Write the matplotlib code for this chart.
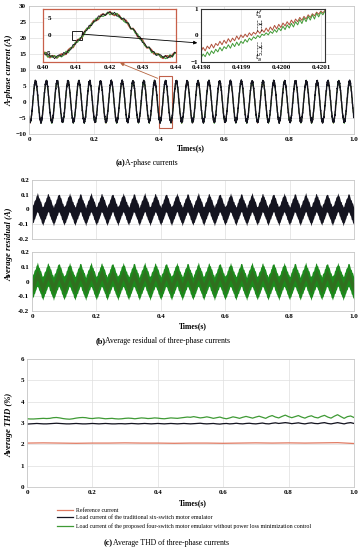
import numpy as np
import matplotlib
matplotlib.use('Agg')
import matplotlib.pyplot as plt
from matplotlib.patches import Rectangle, ConnectionPatch

plt.rcParams['font.family'] = ['Liberation Serif', 'DejaVu Serif']

# ---------------------------------------------------------
# (a) A-phase current: one 30 Hz cycle
# ---------------------------------------------------------
n_cycles = 30
cycle_a = [0.0, 0.8, 1.7, 2.5, 3.2, 3.9, 4.5, 5.1, 5.5, 5.9, 6.2, 6.3,
           6.4, 6.3, 6.2, 5.9, 5.5, 5.0, 4.5, 3.9, 3.2, 2.4, 1.7, 0.8,
           0.0, -0.8, -1.6, -2.4, -3.1, -3.8, -4.4, -4.9, -5.3, -5.7, -5.9, -6.1,
           -6.2, -6.1, -5.9, -5.7, -5.3, -4.9, -4.4, -3.8, -3.1, -2.4, -1.6, -0.8]
ripple_blk = [0.35, -0.25, 0.45, -0.4, 0.15, -0.3, 0.5, -0.1, 0.3, -0.45, 0.2]
ripple_grn = [-0.3, 0.4, -0.5, 0.2, -0.2, 0.45, -0.35, 0.1, -0.45]
ripple_red = [0.25, -0.35, 0.1, 0.4, -0.2, -0.45, 0.3]
shift_a = 17  # samples -> rising zero crossing near 0.412 s

# right-hand zoom (0.4198 .. 0.4201 s)
zoom_red = [-0.62, -0.45, -0.58, -0.40, -0.50, -0.33, -0.47, -0.30, -0.38, -0.22,
            -0.35, -0.18, -0.30, -0.12, -0.25, -0.10, -0.20, -0.02, -0.15, 0.02,
            -0.08, 0.05, -0.05, 0.10, 0.00, 0.12, 0.05, 0.18, 0.08, 0.22,
            0.12, 0.28, 0.15, 0.32, 0.20, 0.38, 0.25, 0.42, 0.30, 0.47,
            0.36, 0.52, 0.40, 0.58, 0.46, 0.62, 0.52, 0.68, 0.57, 0.72,
            0.62, 0.78, 0.68, 0.82, 0.74, 0.88, 0.80, 0.92, 0.85, 0.95]
zoom_grn = [-0.85, -0.70, -0.80, -0.62, -0.75, -0.58, -0.68, -0.52, -0.62, -0.45,
            -0.58, -0.42, -0.50, -0.35, -0.48, -0.30, -0.42, -0.25, -0.38, -0.22,
            -0.30, -0.15, -0.25, -0.10, -0.18, -0.05, -0.12, 0.00, -0.08, 0.05,
            0.00, 0.10, 0.02, 0.15, 0.08, 0.22, 0.12, 0.28, 0.18, 0.35,
            0.22, 0.40, 0.28, 0.46, 0.32, 0.52, 0.40, 0.60, 0.45, 0.66,
            0.52, 0.72, 0.58, 0.78, 0.62, 0.84, 0.70, 0.88, 0.78, 0.92]

# ---------------------------------------------------------
# (b) average residual: band centre per cycle + half widths
# ---------------------------------------------------------
cycle_b = [-0.045, -0.033, -0.021, -0.009, 0.003, 0.015, 0.027, 0.039,
           0.048, 0.036, 0.024, 0.012, 0.0, -0.012, -0.024, -0.036]
half_blk = 0.055
half_grn = 0.072
half_grn_core = 0.035
jit_up = [0.0, 0.01, 0.003, 0.012, 0.006]
jit_dn = [0.007, 0.0, 0.011, 0.003, 0.009, 0.004]

# ---------------------------------------------------------
# (c) average THD (%)
# ---------------------------------------------------------
thd_ref = [2.06, 2.07, 2.06, 2.05, 2.06, 2.06, 2.07, 2.06, 2.06, 2.05, 2.06,
           2.06, 2.05, 2.06, 2.07, 2.06, 2.07, 2.06, 2.07, 2.08, 2.04]
thd_six = [2.95, 2.96, 2.97, 2.98, 2.97, 2.96, 2.96, 2.97, 2.98, 2.99,
           2.98, 2.97, 2.96, 2.96, 2.97, 2.98, 2.97, 2.96, 2.96, 2.97,
           2.98, 2.97, 2.96, 2.97, 2.98, 2.97, 2.96, 2.96, 2.97, 2.97,
           2.96, 2.97, 2.98, 2.97, 2.96, 2.97, 2.98, 2.97, 2.96, 2.97,
           2.98, 2.97, 2.96, 2.97, 2.98, 2.97, 2.96, 2.97, 2.98, 2.97,
           2.96, 2.97, 2.98, 2.99, 2.97, 2.96, 2.97, 2.98, 2.96, 2.95,
           2.97, 2.98, 2.96, 2.97, 2.99, 2.97, 2.96, 2.98, 2.99, 2.97,
           2.96, 2.98, 3.00, 2.97, 2.96, 2.99, 3.01, 2.98, 3.00, 3.02,
           3.00, 2.97, 2.99, 3.01, 2.98, 2.96, 2.99, 3.01, 2.98, 2.97,
           3.00, 3.02, 2.98, 2.96, 2.99, 3.02, 2.99, 2.96, 3.00, 3.02, 2.98]
thd_four = [3.20, 3.19, 3.19, 3.20, 3.21, 3.22, 3.21, 3.22, 3.25, 3.26,
            3.24, 3.21, 3.19, 3.18, 3.20, 3.23, 3.25, 3.26, 3.25, 3.22,
            3.21, 3.23, 3.24, 3.22, 3.20, 3.21, 3.22, 3.20, 3.19, 3.20,
            3.22, 3.23, 3.22, 3.20, 3.22, 3.24, 3.23, 3.21, 3.22, 3.24,
            3.23, 3.21, 3.20, 3.22, 3.24, 3.23, 3.22, 3.24, 3.26, 3.28,
            3.27, 3.30, 3.27, 3.24, 3.26, 3.29, 3.26, 3.22, 3.25, 3.28,
            3.23, 3.20, 3.24, 3.29, 3.26, 3.22, 3.27, 3.31, 3.27, 3.23,
            3.28, 3.32, 3.27, 3.22, 3.30, 3.35, 3.28, 3.24, 3.31, 3.37,
            3.30, 3.25, 3.30, 3.35, 3.28, 3.23, 3.30, 3.34, 3.27, 3.24,
            3.31, 3.36, 3.28, 3.23, 3.32, 3.39, 3.30, 3.22, 3.30, 3.33, 3.26]
legend_labels = ['Reference current',
                 'Load current of the traditional six-switch motor emulator',
                 'Load current of the proposed four-switch motor emulator without power loss minimization control']

time_ticks = [0, 0.2, 0.4, 0.6, 0.8, 1.0]
time_labels = ['0', '0.2', '0.4', '0.6', '0.8', '1.0']

C_RED = '#e07a62'
C_BLK = '#141420'
C_GRN = '#3f9a35'
GRID = '#dedede'
TICK_FS = 5


def style(ax, spine='#c8c8c8'):
    ax.grid(True, color=GRID, linewidth=0.5)
    ax.set_axisbelow(True)
    for s in ax.spines.values():
        s.set_color(spine)
        s.set_linewidth(0.6)
    ax.tick_params(length=0, labelsize=TICK_FS, pad=2)
    for lab in ax.get_xticklabels() + ax.get_yticklabels():
        lab.set_fontweight('bold')


fig = plt.figure(figsize=(3.63, 5.5), dpi=100)

# ---------------- panel (a) ----------------
n_a = n_cycles * len(cycle_a)
t_a = np.arange(n_a) / n_a
base_a = np.roll(np.tile(cycle_a, n_cycles), shift_a)
i_blk = base_a + np.resize(ripple_blk, n_a)
i_grn = base_a + np.resize(ripple_grn, n_a)
i_red = base_a + np.resize(ripple_red, n_a)

ax_a = fig.add_axes([0.0799, 0.7564, 0.8951, 0.2327])
ax_a.plot(t_a, i_red, color=C_RED, lw=0.6)
ax_a.plot(t_a, i_grn, color=C_GRN, lw=0.6)
ax_a.plot(t_a, i_blk, color=C_BLK, lw=1.0)
ax_a.add_patch(Rectangle((0.40, -8), 0.04, 16, fill=False, edgecolor='#c0604a', lw=0.8))
ax_a.set_xlim(0, 1)
ax_a.set_ylim(-10, 30)
ax_a.set_yticks(range(-10, 31, 5))
ax_a.set_xticks(time_ticks)
ax_a.set_xticklabels(time_labels)
style(ax_a)

ins1 = fig.add_axes([0.1185, 0.8873, 0.3664, 0.0964])
ins1.plot(t_a, i_red, color='#b0503a', lw=1.2)
ins1.plot(t_a, i_grn, color=C_GRN, lw=0.8)
ins1.plot(t_a, i_blk, color=C_BLK, lw=0.6)
ins1.add_patch(Rectangle((0.4087, -1.2), 0.003, 2.4, fill=False, edgecolor='black', lw=0.6))
ins1.set_xlim(0.40, 0.44)
ins1.set_ylim(-7.6, 7.6)
ins1.set_xticks([0.40, 0.41, 0.42, 0.43, 0.44])
ins1.set_xticklabels(['0.40', '0.41', '0.42', '0.43', '0.44'])
ins1.set_yticks([-5, 0, 5])
style(ins1, spine='#c8604a')
ins1.tick_params(axis='y', pad=-6)
for s in ins1.spines.values():
    s.set_linewidth(0.9)

t_z = np.linspace(0.41980, 0.42011, len(zoom_red))
ins2 = fig.add_axes([0.5537, 0.8873, 0.3416, 0.0964])
ins2.plot(t_z, zoom_red, color='#b0503a', lw=0.7)
ins2.plot(t_z, zoom_grn, color=C_GRN, lw=0.7)
for tx in [0.419940, 0.419950]:
    ins2.plot([tx, tx], [0.15, 0.6], color='black', lw=0.4, ls='--')
    ins2.plot([tx, tx], [-0.75, -0.25], color='black', lw=0.4, ls='--')
ins2.annotate('', xy=(0.419950, 0.42), xytext=(0.419940, 0.42),
              arrowprops=dict(arrowstyle='<->', lw=0.4, color='black', mutation_scale=3))
ins2.annotate('', xy=(0.419950, -0.45), xytext=(0.419940, -0.45),
              arrowprops=dict(arrowstyle='<->', lw=0.4, color='black', mutation_scale=3))
ins2.text(0.419945, 0.75, '$t_a^f$', fontsize=5, ha='center', va='center')
ins2.text(0.419945, -0.85, '$t_a^r$', fontsize=5, ha='center', va='center')
ins2.set_xlim(0.41980, 0.42011)
ins2.set_ylim(-1, 1)
ins2.set_xticks([0.4198, 0.4199, 0.4200, 0.4201])
ins2.set_xticklabels(['0.4198', '0.4199', '0.4200', '0.4201'])
ins2.set_yticks([-1, 0, 1])
style(ins2, spine='#333333')
for s in ins2.spines.values():
    s.set_linewidth(0.8)

fig.add_artist(ConnectionPatch(xyA=(0.4117, 0.4), coordsA='data', axesA=ins1,
                               xyB=(-0.03, 0.36), coordsB='axes fraction', axesB=ins2,
                               arrowstyle='-|>', color='black', lw=0.6, mutation_scale=5))
fig.add_artist(ConnectionPatch(xyA=(0.396, 7.4), coordsA='data', axesA=ax_a,
                               xyB=(0.58, -0.02), coordsB='axes fraction', axesB=ins1,
                               arrowstyle='-|>', color='#b5653f', lw=0.6, mutation_scale=5))

fig.text(0.526, 0.731, 'Times(s)', fontsize=5.5, fontweight='bold', ha='center', va='center')
fig.text(0.025, 0.873, 'A-phase current (A)', fontsize=6.2, fontweight='bold', style='italic',
         rotation=90, ha='center', va='center')
fig.text(0.345, 0.7036, '(a)', fontsize=6, fontweight='bold', ha='right', va='center')
fig.text(0.345, 0.7036, 'A-phase currents', fontsize=5.6, ha='left', va='center')

# ---------------- panel (b) ----------------
n_b = n_cycles * len(cycle_b)
t_b = np.arange(n_b + 1) / n_b
centre_b = np.resize(np.tile(cycle_b, n_cycles), n_b + 1)
up_j = np.resize(jit_up, n_b + 1)
dn_j = np.resize(jit_dn, n_b + 1)

ax_b1 = fig.add_axes([0.0882, 0.5655, 0.8868, 0.1073])
ax_b1.fill_between(t_b, centre_b - half_blk - dn_j, centre_b + half_blk + up_j,
                   color=C_BLK, lw=0)
ax_b1.set_xlim(0, 1)
ax_b1.set_ylim(-0.2, 0.2)
ax_b1.set_xticks(time_ticks)
ax_b1.set_xticklabels([])
ax_b1.set_yticks([-0.2, -0.1, 0, 0.1, 0.2])
ax_b1.set_yticklabels(['-0.2', '-0.1', '0', '0.1', '0.2'])
style(ax_b1)

ax_b2 = fig.add_axes([0.0882, 0.4345, 0.8868, 0.1073])
ax_b2.fill_between(t_b, centre_b - half_grn - dn_j, centre_b + half_grn + up_j,
                   color='#1c8a1c', lw=0)
ax_b2.fill_between(t_b, centre_b - half_grn_core, centre_b + half_grn_core,
                   color='#3f5f22', lw=0, alpha=0.6)
ax_b2.set_xlim(0, 1)
ax_b2.set_ylim(-0.2, 0.2)
ax_b2.set_xticks(time_ticks)
ax_b2.set_xticklabels(time_labels)
ax_b2.set_yticks([-0.2, -0.1, 0, 0.1, 0.2])
ax_b2.set_yticklabels(['-0.2', '-0.1', '0', '0.1', '0.2'])
style(ax_b2)

fig.text(0.53, 0.4073, 'Times(s)', fontsize=5.5, fontweight='bold', ha='center', va='center')
fig.text(0.025, 0.556, 'Average residual (A)', fontsize=6.2, fontweight='bold', style='italic',
         rotation=90, ha='center', va='center')
fig.text(0.29, 0.38, '(b)', fontsize=6, fontweight='bold', ha='right', va='center')
fig.text(0.29, 0.38, 'Average residual of three-phase currents', fontsize=5.6, ha='left', va='center')

# ---------------- panel (c) ----------------
t_ref = np.arange(len(thd_ref)) / (len(thd_ref) - 1)
t_thd = np.arange(len(thd_six)) / (len(thd_six) - 1)

ax_c = fig.add_axes([0.0744, 0.1145, 0.9006, 0.2327])
l1, = ax_c.plot(t_ref, thd_ref, color=C_RED, lw=0.9, label=legend_labels[0])
l2, = ax_c.plot(t_thd, thd_six, color=C_BLK, lw=0.9, label=legend_labels[1])
l3, = ax_c.plot(t_thd, thd_four, color=C_GRN, lw=0.9, label=legend_labels[2])
ax_c.set_xlim(0, 1)
ax_c.set_ylim(0, 6)
ax_c.set_yticks(range(0, 7))
ax_c.set_xticks(time_ticks)
ax_c.set_xticklabels(time_labels)
style(ax_c)
ax_c.legend(handles=[l1, l2, l3], loc='upper left', bbox_to_anchor=(0.092, -0.16),
            frameon=False, fontsize=4.2, handlelength=2.8, handletextpad=0.4,
            labelspacing=0.45, borderaxespad=0, borderpad=0)

fig.text(0.53, 0.0855, 'Times(s)', fontsize=5.5, fontweight='bold', ha='center', va='center')
fig.text(0.025, 0.227, 'Average THD (%)', fontsize=6.2, fontweight='bold', style='italic',
         rotation=90, ha='center', va='center')
fig.text(0.31, 0.0127, '(c)', fontsize=6, fontweight='bold', ha='right', va='center')
fig.text(0.31, 0.0127, 'Average THD of three-phase currents', fontsize=5.6, ha='left', va='center')

fig.savefig('out.png', dpi=100)
